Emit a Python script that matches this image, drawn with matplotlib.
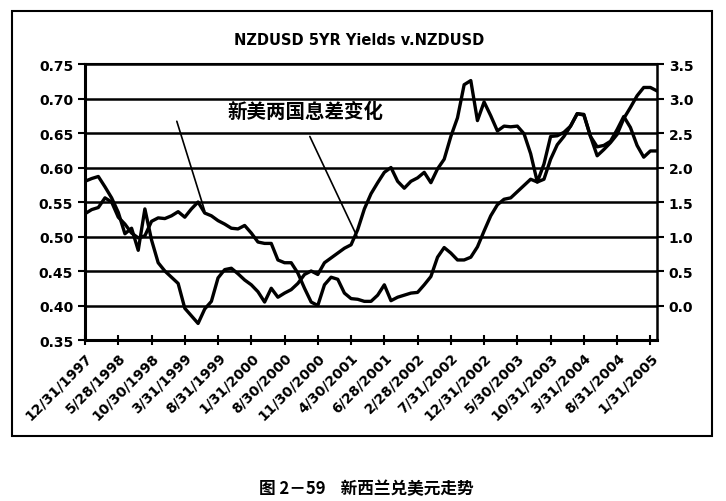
import numpy as np
import matplotlib
matplotlib.use('Agg')
import matplotlib.pyplot as plt
from matplotlib.patches import Rectangle

# month-end points, one tick label every 5 points
TICK_LABELS = ['12/31/1997', '5/28/1998', '10/30/1998', '3/31/1999', '8/31/1999',
               '1/31/2000', '8/30/2000', '11/30/2000', '4/30/2001', '6/28/2001',
               '2/28/2002', '7/31/2002', '12/31/2002', '5/30/2003', '10/31/2003',
               '3/31/2004', '8/31/2004', '1/31/2005']

# NZDUSD spot (left axis)
NZDUSD = [0.533, 0.539, 0.542, 0.556, 0.550, 0.528, 0.518, 0.505, 0.498, 0.501,
          0.522, 0.527, 0.526, 0.530, 0.536, 0.528, 0.540, 0.550, 0.534, 0.530,
          0.523, 0.518, 0.512, 0.511, 0.516, 0.505, 0.492, 0.490, 0.490, 0.466,
          0.462, 0.462, 0.447, 0.425, 0.405, 0.400, 0.430, 0.441, 0.438, 0.418,
          0.410, 0.409, 0.406, 0.406, 0.415, 0.430, 0.407, 0.412, 0.415, 0.418,
          0.419, 0.430, 0.442, 0.470, 0.484, 0.476, 0.466, 0.466, 0.470, 0.485,
          0.508, 0.530, 0.546, 0.554, 0.556, 0.565, 0.574, 0.583, 0.579, 0.583,
          0.612, 0.633, 0.645, 0.660, 0.678, 0.676, 0.645, 0.617, 0.626, 0.636,
          0.648, 0.671, 0.687, 0.704, 0.716, 0.716, 0.711]

# NZ - US 5yr yield spread (right axis)
SPREAD = [1.80, 1.84, 1.87, 1.72, 1.56, 1.35, 1.04, 1.12, 0.80, 1.40,
          0.95, 0.62, 0.50, 0.41, 0.32, -0.04, -0.15, -0.26, -0.05, 0.06,
          0.40, 0.52, 0.54, 0.46, 0.37, 0.30, 0.20, 0.05, 0.25, 0.12,
          0.18, 0.23, 0.32, 0.45, 0.50, 0.45, 0.62, 0.69, 0.76, 0.83,
          0.88, 1.10, 1.40, 1.62, 1.78, 1.93, 2.00, 1.80, 1.70, 1.80,
          1.85, 1.93, 1.78, 1.98, 2.12, 2.45, 2.72, 3.20, 3.26, 2.68,
          2.95, 2.75, 2.53, 2.60, 2.59, 2.60, 2.49, 2.20, 1.79, 2.05,
          2.45, 2.46, 2.51, 2.60, 2.78, 2.77, 2.45, 2.30, 2.32, 2.38,
          2.55, 2.74, 2.58, 2.32, 2.15, 2.24, 2.24]

LEFT_TICKS = [0.35, 0.40, 0.45, 0.50, 0.55, 0.60, 0.65, 0.70, 0.75]
RIGHT_TICKS = [0.0, 0.5, 1.0, 1.5, 2.0, 2.5, 3.0, 3.5]

plt.rcParams['font.family'] = ['DejaVu Sans', 'Noto Sans CJK SC']
cjk = ['Noto Sans CJK SC', 'DejaVu Sans']

fig = plt.figure(figsize=(7.26, 5.02), dpi=100)
fig.patches.append(Rectangle((0.0165, 0.1295), 0.964, 0.8466, transform=fig.transFigure,
                             fill=False, edgecolor='black', lw=1.5))

ax = fig.add_axes([0.1171, 0.3207, 0.7879, 0.5498])
x = np.arange(len(NZDUSD))
ax.plot(x, NZDUSD, color='black', lw=2.4, solid_joinstyle='round')
ax.set_xlim(0, len(NZDUSD) - 1)
ax.set_ylim(0.35, 0.75)
ax.set_yticks(LEFT_TICKS)
ax.set_yticklabels(['%.2f' % v for v in LEFT_TICKS], fontsize=10, fontweight='bold')
ax.yaxis.grid(True, color='black', lw=1.8)
ax.set_axisbelow(True)
ax.set_xticks(np.arange(0, len(NZDUSD), 5))
ax.set_xticklabels(TICK_LABELS, rotation=45, ha='right', va='top',
                   rotation_mode='anchor', fontsize=10, fontweight='bold')
ax.tick_params(axis='x', direction='inout', length=7, width=1.5)
ax.tick_params(axis='y', direction='out', length=5, width=1.5)
ax.spines['left'].set_linewidth(2.2)
ax.spines['bottom'].set_linewidth(2.2)
ax.spines['top'].set_linewidth(1.5)
ax.spines['right'].set_visible(False)

ax2 = ax.twinx()
ax2.plot(x, SPREAD, color='black', lw=2.4, solid_joinstyle='round')
ax2.set_ylim(-0.5, 3.5)
ax2.set_yticks(RIGHT_TICKS)
ax2.set_yticklabels(['%.1f' % v for v in RIGHT_TICKS], fontsize=10, fontweight='bold')
ax2.tick_params(axis='y', direction='out', length=5, width=1.5)
for s in ['left', 'bottom', 'top']:
    ax2.spines[s].set_visible(False)
ax2.spines['right'].set_linewidth(1.8)

ax.text(0.385, 0.83, '新美两国息差变化', transform=ax.transAxes, ha='center', va='center',
        fontsize=14, fontweight='bold', family=cjk)
ax.annotate('', xy=(18.0, 0.537), xytext=(13.8, 0.667),
            arrowprops=dict(arrowstyle='-', lw=1.2, color='black', shrinkA=0, shrinkB=0))
ax.annotate('', xy=(40.9, 0.500), xytext=(33.8, 0.645),
            arrowprops=dict(arrowstyle='-', lw=1.2, color='black', shrinkA=0, shrinkB=0))

fig.text(0.495, 0.92, 'NZDUSD 5YR Yields v.NZDUSD', ha='center', va='center',
         fontsize=10.5, fontweight='bold')
fig.text(0.504, 0.026, '图 2－59    新西兰兑美元走势', ha='center', va='center',
         fontsize=12, fontweight='bold', family=cjk)

fig.savefig('out.png', dpi=100)
